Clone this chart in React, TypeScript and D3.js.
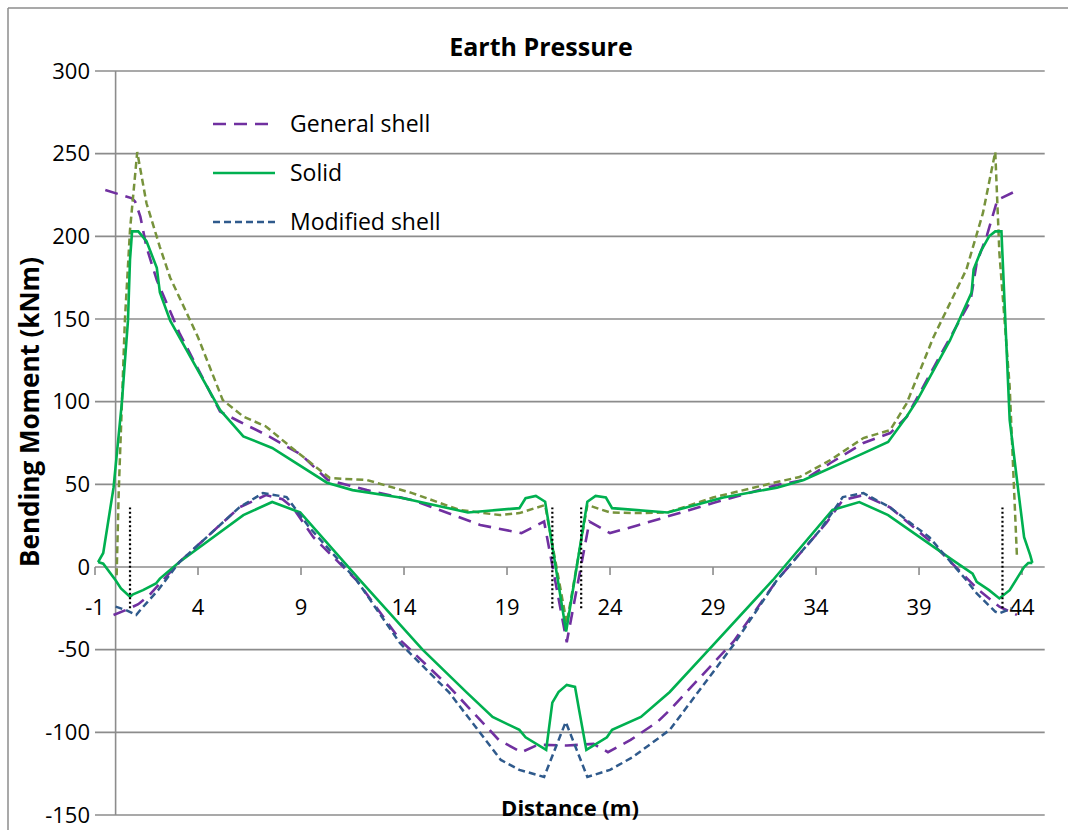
import React from 'react';
import * as d3 from 'd3';

type P = [number, number];

const yTicks = [-150, -100, -50, 0, 50, 100, 150, 200, 250, 300];
const xTicks = [-1, 4, 9, 14, 19, 24, 29, 34, 39, 44];

const generalTop: P[] = [
  [-0.5, 228], [0.8, 223], [0.95, 221], [1.2, 212], [1.5, 193.5], [2.0, 173.5], [3.1, 141.5],
  [5.07, 94], [6.0, 88], [7.3, 80], [9.0, 68], [10.3, 52.6], [12.2, 46.5], [14.4, 40.5],
  [17.7, 25.4], [19.7, 20.5], [20.8, 27.5], [21.9, -45.5], [23.0, 27.5], [24.0, 20.5],
  [25.4, 25.4], [29.0, 38.7], [32.1, 49.6], [33.4, 52.6], [34.7, 62.9], [36.3, 75],
  [37.6, 81], [38.4, 90.7], [39.9, 125], [41.5, 161], [41.8, 184], [42.3, 200.7],
  [42.8, 222], [43.8, 228],
];

const generalBottom: P[] = [
  [-0.1, -29], [0.6, -25.5], [1.1, -22.5], [1.6, -17.5], [3.1, 3], [6.0, 36], [7.3, 43.5],
  [8.1, 41], [8.6, 36], [9.6, 18], [11.7, -8], [13.8, -44], [16.2, -72.5], [18.6, -104.6],
  [19.7, -112], [20.5, -107.5], [21.9, -108], [23.2, -107], [23.9, -112], [25.0, -104.6],
  [26.3, -93.7], [26.9, -86.5], [30.0, -45], [32.1, -8], [34.5, 26.6], [35.3, 40.5],
  [36.3, 43.5], [37.6, 36], [39.5, 16], [41.9, -14], [42.9, -24], [43.75, -29],
];

const solidTop: P[] = [
  [-0.85, 3], [-0.6, 8.5], [-0.1, 48], [0.3, 99], [0.6, 149], [0.7, 186], [0.8, 203],
  [1.1, 203], [1.5, 197], [2.0, 181], [2.15, 166], [2.65, 149], [5.07, 95], [6.2, 79],
  [7.6, 72], [10.26, 51], [11.5, 46.5], [13.8, 42], [17.1, 33], [19.6, 35.6], [19.9, 41.6],
  [20.4, 43], [20.85, 39.5], [21.87, -39], [22.9, 39.5], [23.3, 43], [23.8, 42], [24.1, 35.6],
  [26.8, 33], [29.5, 42], [32.1, 48], [33.4, 52.6], [36.1, 67.7], [37.5, 75.6], [38.4, 91],
  [38.9, 100.6], [40.5, 137], [41.55, 166], [41.65, 180], [42.0, 191], [42.4, 200],
  [42.7, 203], [43.0, 203], [43.4, 89], [43.8, 48], [44.1, 18], [44.4, 7], [44.5, 2.5],
];

const solidBottom: P[] = [
  [-0.85, 3], [-0.6, 2], [0.0, -8], [0.26, -13], [0.7, -18], [0.85, -16.5], [1.33, -14],
  [1.96, -10], [2.15, -7], [3.1, 3], [6.2, 31.4], [7.6, 39.3], [8.96, 33], [11.86, -8],
  [14.9, -50], [17.05, -76], [18.3, -90.7], [19.6, -98.5], [19.9, -103], [20.9, -110.6],
  [21.2, -82], [21.5, -75.6], [21.9, -71.3], [22.3, -72.5], [22.5, -86.5], [22.85, -110.6],
  [23.85, -103], [24.1, -98.5], [25.5, -90.7], [26.9, -75.6], [28.8, -50], [31.9, -8],
  [34.8, 34.5], [36.1, 39.3], [37.5, 31.4], [40.65, 4], [41.6, -4], [41.8, -9], [42.4, -14],
  [42.9, -19], [43.4, -14], [43.8, -6], [44.1, 0], [44.3, 2.4], [44.5, 2.5],
];

const modifiedBottom: P[] = [
  [0.0, -24], [0.5, -26], [1.0, -29], [1.2, -26], [2.06, -14], [3.1, 3], [6.0, 36],
  [7.15, 44.7], [8.3, 42.3], [8.7, 35.7], [9.4, 24], [11.7, -8], [13.8, -46], [16.2, -76],
  [18.7, -116.7], [19.6, -122.7], [20.8, -127], [21.85, -93.7], [22.9, -127], [24.0, -122.7],
  [25.1, -115], [26.9, -98.5], [30.0, -47], [32.1, -8], [34.2, 22.4], [35.3, 42.3],
  [36.3, 44.7], [37.6, 36], [39.5, 18], [41.3, -8], [41.8, -16], [42.7, -27], [42.9, -28],
  [43.5, -25],
];

const modifiedTop: P[] = [
  [0.05, -5], [0.15, 45], [0.45, 149], [0.7, 204], [1.05, 251], [1.5, 220], [2.15, 193.5],
  [2.65, 175], [4.0, 139], [5.2, 101], [6.2, 91], [7.3, 85], [8.5, 72.6], [10.4, 53.8],
  [12.2, 52.6], [14.4, 44.7], [16.7, 34.5], [18.65, 31.4], [19.6, 32.6], [20.85, 37.5],
  [21.9, -34], [22.9, 37.5], [24.0, 33], [25.4, 32.6], [26.8, 33], [29.0, 42], [32.1, 51.4],
  [33.2, 54.4], [34.7, 64.7], [36.3, 78], [37.6, 82.8], [38.4, 99], [39.7, 139], [41.3, 180],
  [42.1, 214], [42.7, 251], [42.9, 190], [43.4, 109], [43.75, 7],
];

const dividerX = [0.7, 21.2, 22.6, 43.05];
const dividerY: P = [-25, 36];

const PURPLE = '#7030A0';
const GREEN = '#00B050';
const BLUE = '#2F5A8C';
const OLIVE = '#77933C';
const PURPLE_DASH = '13 8';
const SHORT_DASH = '7 4';

const legendItems = [
  { label: 'General shell', color: PURPLE, dash: PURPLE_DASH, width: 2.6 },
  { label: 'Solid', color: GREEN, dash: '', width: 2.6 },
  { label: 'Modified shell', color: BLUE, dash: SHORT_DASH, width: 2.5 },
];

const FONT = 'Open Sans, Lato, sans-serif';

export default function App() {
  const x = d3.scaleLinear().domain([-1, 45.1]).range([95, 1044.7]);
  const y = d3.scaleLinear().domain([-150, 300]).range([815, 71]);
  const line = d3.line<P>().x((d) => x(d[0])).y((d) => y(d[1]));
  const grid = '#8C8C8C';

  return (
    <svg
      width={1068}
      height={830}
      style={{ position: 'absolute', left: 0, top: 0, background: '#fff' }}
      fontFamily={FONT}
    >
      <rect x={0} y={0} width={1068} height={830} fill="#fff" />
      <line x1={8} y1={8} x2={1068} y2={8} stroke={grid} strokeWidth={1.5} />
      <line x1={8} y1={8} x2={8} y2={830} stroke={grid} strokeWidth={1.5} />

      {yTicks.map((t) => (
        <g key={'y' + t}>
          <line x1={x(-1)} x2={x(45.1)} y1={y(t)} y2={y(t)} stroke={grid} strokeWidth={1.6} />
          <text x={90} y={y(t)} dy="0.35em" textAnchor="end" fontSize={22} fill="#000">
            {t}
          </text>
        </g>
      ))}
      <line x1={x(0)} x2={x(0)} y1={y(300)} y2={y(-150)} stroke={grid} strokeWidth={1.6} />
      {xTicks.map((t) => (
        <g key={'x' + t}>
          <line x1={x(t)} x2={x(t)} y1={y(0)} y2={y(0) + 8} stroke={grid} strokeWidth={1.6} />
          <text x={x(t)} y={y(0) + 40} dy="0.35em" textAnchor="middle" fontSize={22} fill="#000">
            {t}
          </text>
        </g>
      ))}

      <path d={line(generalTop) || ''} fill="none" stroke={PURPLE} strokeWidth={2.6} strokeDasharray={PURPLE_DASH} />
      <path d={line(generalBottom) || ''} fill="none" stroke={PURPLE} strokeWidth={2.6} strokeDasharray={PURPLE_DASH} />
      <path d={line(modifiedTop) || ''} fill="none" stroke={OLIVE} strokeWidth={2.5} strokeDasharray={SHORT_DASH} />
      <path d={line(solidTop) || ''} fill="none" stroke={GREEN} strokeWidth={2.6} />
      <path d={line(solidBottom) || ''} fill="none" stroke={GREEN} strokeWidth={2.6} />
      <path d={line(modifiedBottom) || ''} fill="none" stroke={BLUE} strokeWidth={2.5} strokeDasharray={SHORT_DASH} />

      {dividerX.map((v) => (
        <line key={'d' + v} x1={x(v)} x2={x(v)} y1={y(dividerY[0])} y2={y(dividerY[1])}
          stroke="#000" strokeWidth={2.2} strokeDasharray="2 2.5" />
      ))}

      {legendItems.map((it, i) => (
        <g key={it.label}>
          <line x1={213} x2={275} y1={124 + i * 49} y2={124 + i * 49} stroke={it.color}
            strokeWidth={it.width} strokeDasharray={it.dash || undefined} />
          <text x={290} y={124 + i * 49} dy="0.35em" fontSize={23} fill="#000">{it.label}</text>
        </g>
      ))}

      <text x={541} y={47} dy="0.35em" textAnchor="middle" fontSize={25} fontWeight="bold" fill="#000">
        Earth Pressure
      </text>
      <text transform={`translate(30, 412) rotate(-90)`} dy="0.35em" textAnchor="middle" fontSize={26}
        fontWeight="bold" fill="#000">
        Bending Moment (kNm)
      </text>
      <text x={570} y={808} dy="0.35em" textAnchor="middle" fontSize={22} fontWeight="bold" fill="#000">
        Distance (m)
      </text>
    </svg>
  );
}
